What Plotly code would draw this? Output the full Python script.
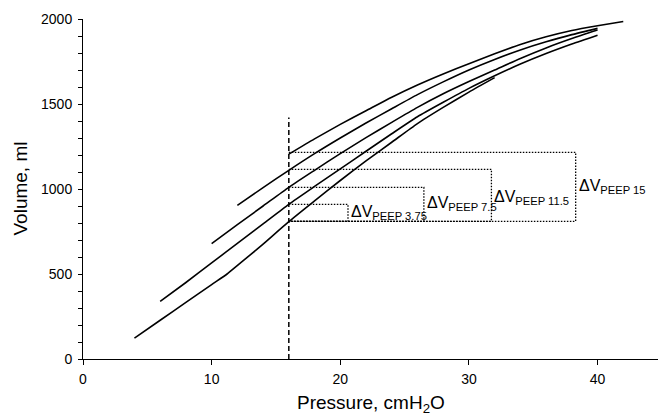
import plotly.graph_objects as go

# ---- data ----
c0_p = [4, 6, 8, 10, 11.2, 11.8, 13, 14, 16, 18, 20, 22, 24, 26, 28, 30, 32]
c0_v = [123, 228, 333, 438, 500, 538, 612, 676, 808, 930, 1050, 1165, 1275, 1385, 1480, 1570, 1655]

c1_p = [6, 8, 10, 12, 14, 16, 18, 20, 22, 24, 26, 28, 30, 32, 34, 36, 38, 40]
c1_v = [339, 450, 565, 680, 795, 910, 1015, 1118, 1222, 1325, 1425, 1510, 1592, 1666, 1735, 1797, 1853, 1905]

c2_p = [10, 12, 14, 16, 18, 20, 22, 24, 26, 28, 30, 32, 34, 36, 38, 40]
c2_v = [679, 790, 900, 1010, 1110, 1208, 1302, 1392, 1480, 1560, 1632, 1700, 1768, 1830, 1885, 1935]

c3_p = [12, 14, 16, 18, 20, 22, 24, 26, 28, 30, 32, 34, 36, 38, 40]
c3_v = [904, 1008, 1110, 1208, 1300, 1388, 1472, 1555, 1630, 1700, 1762, 1818, 1866, 1908, 1945]

c4_p = [16, 18, 20, 22, 24, 26, 28, 30, 32, 34, 36, 38, 40, 42]
c4_v = [1205, 1295, 1380, 1460, 1540, 1612, 1677, 1737, 1795, 1850, 1895, 1932, 1960, 1985]

curves = [(c0_p, c0_v), (c1_p, c1_v), (c2_p, c2_v), (c3_p, c3_v), (c4_p, c4_v)]

peep_line_p = 16
peep_line_top = 1420

box_base = 810
box_tops = [910, 1010, 1115, 1215]
box_rights = [20.6, 26.5, 31.75, 38.3]
box_labels = ["3.75", "7.5", "11.5", "15"]
label_v = [860, 912, 952, 1016]

x_ticks = [0, 10, 20, 30, 40]
y_ticks = [0, 500, 1000, 1500, 2000]

FONT = "Liberation Sans, Arial, sans-serif"

fig = go.Figure()

for p, v in curves:
    fig.add_trace(go.Scatter(x=p, y=v, mode="lines",
                             line=dict(color="black", width=1.6, shape="spline", smoothing=0.6),
                             hoverinfo="skip"))

fig.add_trace(go.Scatter(x=[peep_line_p, peep_line_p], y=[0, peep_line_top], mode="lines",
                         line=dict(color="black", width=1.5, dash="5px,3px"), hoverinfo="skip"))

for top, right in zip(box_tops, box_rights):
    fig.add_trace(go.Scatter(x=[peep_line_p, right, right, peep_line_p],
                             y=[top, top, box_base, box_base], mode="lines",
                             line=dict(color="black", width=1.3, dash="1.5px,1.5px"), hoverinfo="skip"))

for right, lab, lv in zip(box_rights, box_labels, label_v):
    fig.add_annotation(x=right, y=lv, xref="x", yref="y", xanchor="left", yanchor="middle",
                       xshift=1, showarrow=False,
                       text="ΔV<sub>PEEP " + lab + "</sub>",
                       font=dict(family=FONT, size=16, color="black"))

fig.add_annotation(x=0.5, y=0, xref="paper", yref="paper", xanchor="center", yanchor="middle",
                   yshift=-45, showarrow=False, text="Pressure, cmH<sub>2</sub>O",
                   font=dict(family=FONT, size=19, color="black"))
fig.add_annotation(x=0, y=0.5, xref="paper", yref="paper", xanchor="center", yanchor="middle",
                   xshift=-63.5, textangle=-90, showarrow=False, text="Volume, ml",
                   font=dict(family=FONT, size=19, color="black"))

fig.update_layout(
    width=658, height=417,
    margin=dict(l=83, r=0, t=19, b=58),
    paper_bgcolor="white", plot_bgcolor="white",
    showlegend=False,
    font=dict(family=FONT, size=14, color="black"),
    xaxis=dict(range=[0, 44.7], tickvals=x_ticks, ticks="outside", ticklen=5, tickwidth=1,
               tickcolor="black", showline=True, linecolor="black", linewidth=1,
               showgrid=False, zeroline=False, tickfont=dict(size=14), ticklabelstandoff=2),
    yaxis=dict(range=[0, 2000], tickvals=y_ticks, ticks="outside", ticklen=4, tickwidth=1,
               tickcolor="black", showline=True, linecolor="black", linewidth=1,
               showgrid=False, zeroline=False, tickfont=dict(size=14), ticklabelstandoff=3,
               minor=dict(dtick=100, ticks="outside", ticklen=4, tickcolor="black", showgrid=False)),
)

fig.write_html("out.html", config={"displayModeBar": False})

# remove the browser's default page margin so the figure fills the window exactly
with open("out.html", "r", encoding="utf-8") as f:
    html = f.read()
html = html.replace("<head>", "<head><style>html,body{margin:0;padding:0;overflow:hidden;}</style>", 1)
with open("out.html", "w", encoding="utf-8") as f:
    f.write(html)
